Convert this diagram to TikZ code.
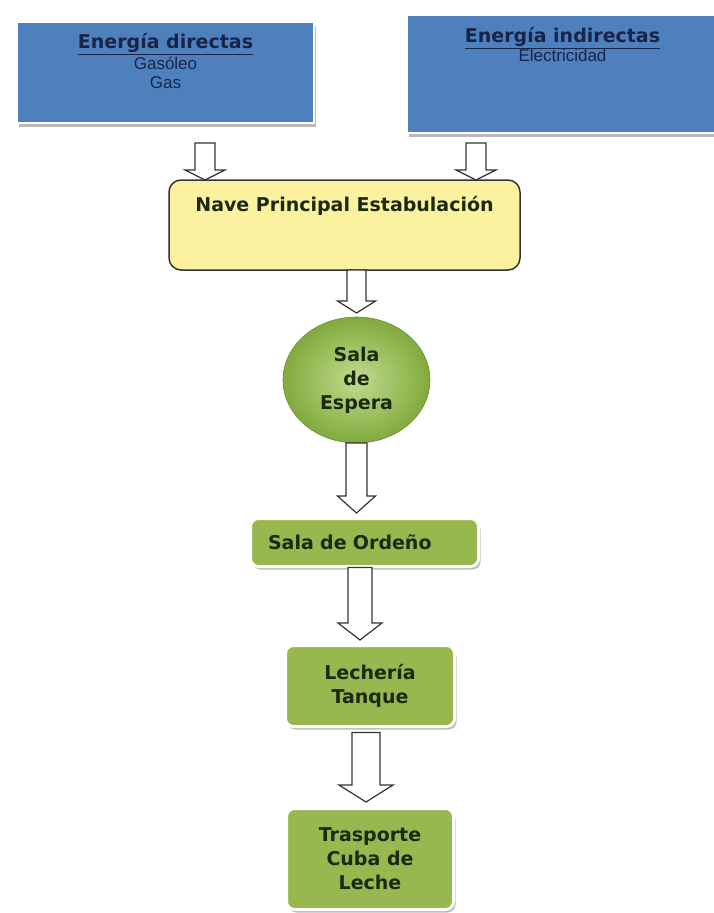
\documentclass[tikz,border=0pt]{standalone}
\usepackage{fontspec}
\setmainfont{DejaVu Sans}
\newfontfamily\subfont{Liberation Sans}
\usepackage{xcolor}
\usepackage{tikz}
\usetikzlibrary{positioning, shapes.geometric, shadows, calc}

\definecolor{boxblue}{RGB}{78,128,190}
\definecolor{navytext}{RGB}{26,36,72}
\definecolor{paleyellow}{RGB}{250,242,158}
\definecolor{leafgreen}{RGB}{150,184,78}
\definecolor{lightleaf}{RGB}{192,220,142}
\definecolor{darkleaf}{RGB}{130,170,62}
\definecolor{darktext}{RGB}{28,40,16}

% hollow block arrow: start, tip, half shaft, half head, head length
\newcommand{\blockarrow}[5]{%
  \draw[draw=black!80, line width=1.2pt, fill=white, line join=miter]
    let \p1=(#1), \p2=(#2) in
    (\x1-#3,\y1) -- (\x1-#3,\y2+#5) -- (\x1-#4,\y2+#5) -- (\x1,\y2)
    -- (\x1+#4,\y2+#5) -- (\x1+#3,\y2+#5) -- (\x1+#3,\y1) -- cycle;}
% one line of the plain source list
\newcommand{\sourceline}[1]{{\subfont\fontsize{17}{19}\selectfont\mdseries #1}}

\tikzset{
  energybox/.style={rectangle, fill=boxblue, draw=white, line width=2pt,
    inner sep=0pt, outer sep=0pt,
    drop shadow={shadow xshift=2pt, shadow yshift=-4pt, fill=black!45, opacity=0.6}},
  energytext/.style={inner sep=0pt, align=center, text=navytext,
    font=\fontsize{19}{19}\selectfont\bfseries},
  navebox/.style={rectangle, rounded corners=12pt, fill=paleyellow, draw=black!80,
    line width=1.5pt, inner sep=0pt, outer sep=0pt},
  stagetext/.style={text=darktext, font=\fontsize{19}{24}\selectfont\bfseries},
  stagebox/.style={rectangle, rounded corners=8pt, fill=leafgreen, draw=white,
    line width=3pt, inner sep=0pt, outer sep=0pt, align=center, stagetext,
    drop shadow={shadow xshift=2pt, shadow yshift=-3pt, fill=black!45, opacity=0.6}},
  waitellipse/.style={ellipse, inner sep=0pt, outer sep=0pt, align=center, stagetext,
    shading=radial, inner color=lightleaf, outer color=darkleaf, draw=darkleaf!85!black,
    line width=0.6pt}
}

\begin{document}
\begin{tikzpicture}[x=1pt, y=-1pt]
    \useasboundingbox (0,0) rectangle (713,913);

    % Energy sources
    \node[energybox, minimum width=297pt, minimum height=101pt] (dir) at (165.5,72.5) {};
    \node[energytext, below=11.5pt of dir.north] (dirtxt)
        {\underline{Energía directas}\\[2pt]\sourceline{Gasóleo}\\\sourceline{Gas}};
    \node[energybox, minimum width=311pt, minimum height=118pt] (ind) at (562.5,74) {};
    \node[energytext, below=12.5pt of ind.north] (indtxt)
        {\underline{Energía indirectas}\\\sourceline{Electricidad}};

    % Stages
    \node[navebox, minimum width=351pt, minimum height=90pt] (nave) at (344.5,225) {};
    \node[stagetext, inner sep=0pt, below=16.5pt of nave.north] (navetxt) {Nave Principal Estabulación};
    \node[waitellipse, minimum width=147pt, minimum height=126pt, below=47pt of nave, xshift=12pt] (espera)
        {Sala\\de\\Espera};
    \node[stagebox, minimum width=228pt, minimum height=48pt, text width=193pt, align=left,
        inner xsep=17.5pt, below=75.5pt of espera, xshift=8pt] (ordeno) {Sala de Ordeño};
    \node[stagebox, minimum width=169pt, minimum height=81pt, below=79pt of ordeno, xshift=5.5pt] (lecheria)
        {Lechería\\Tanque};
    \node[stagebox, minimum width=167pt, minimum height=101pt, below=82pt of lecheria] (trasporte)
        {Trasporte\\Cuba de\\Leche};

    % Arrows
    \coordinate (dirout) at (205,143);
    \coordinate (indout) at (476,143);
    \blockarrow{dirout}{dirout |- nave.north}{10pt}{20pt}{10pt}
    \blockarrow{indout}{indout |- nave.north}{10pt}{20pt}{10pt}
    \blockarrow{espera.north |- nave.south}{[yshift=4pt]espera.north}{9.5pt}{19pt}{12pt}
    \blockarrow{espera.south}{[yshift=5.5pt]ordeno.north}{10.5pt}{19pt}{17pt}
    \blockarrow{[xshift=-4.5pt, yshift=-1pt]ordeno.south}{[yshift=5.5pt]lecheria.north}{12pt}{22pt}{17pt}
    \blockarrow{[xshift=-4pt, yshift=-6pt]lecheria.south}{[yshift=6.5pt]trasporte.north}{14pt}{27pt}{17pt}
\end{tikzpicture}
\end{document}
